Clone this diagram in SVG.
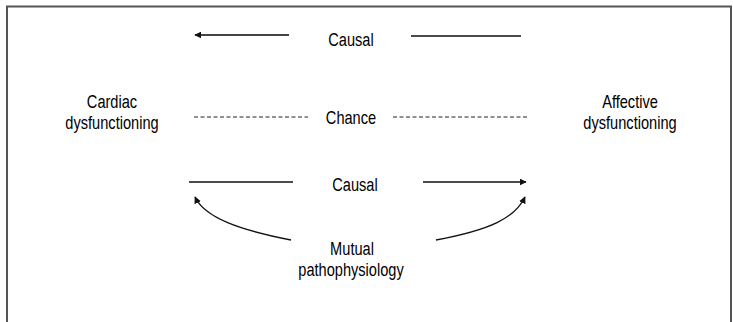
<svg xmlns="http://www.w3.org/2000/svg" width="733" height="322" viewBox="0 0 733 322">
  <style>
    text { font-family: "Liberation Sans", Arial, sans-serif; font-size: 14.6px; fill: #000; text-anchor: middle; }
    .frame { fill: none; stroke: #555; stroke-width: 2; }
    .link { fill: none; stroke: #111; stroke-width: 1.3; }
    .link-grey { fill: none; stroke: #444; stroke-width: 1.8; }
    .dash { fill: none; stroke: #222; stroke-width: 1; stroke-dasharray: 4 2.5; }
  </style>
  <defs>
    <marker id="arrow" viewBox="0 0 10 10" refX="9" refY="5" markerWidth="7" markerHeight="7" markerUnits="userSpaceOnUse" orient="auto">
      <path d="M0,0 L10,5 L0,10 z" fill="#111"/>
    </marker>
  </defs>
  <rect width="733" height="322" fill="#fff"/>
  <path class="frame" d="M7,322 V6.5 H731 V322"/>

  <!-- labels are drawn slightly tall: vertical scale 1.25 -->
  <g id="cardiac">
    <text transform="translate(112,108) scale(1,1.25)">Cardiac</text>
    <text transform="translate(112,129) scale(1,1.25)">dysfunctioning</text>
  </g>
  <g id="affective">
    <text transform="translate(630,108) scale(1,1.25)">Affective</text>
    <text transform="translate(630,129) scale(1,1.25)">dysfunctioning</text>
  </g>
  <g id="causal-top">
    <text transform="translate(351,45.5) scale(1,1.25)">Causal</text>
  </g>
  <g id="chance">
    <text transform="translate(351,124) scale(1,1.25)">Chance</text>
  </g>
  <g id="causal-bottom">
    <text transform="translate(355,190.5) scale(1,1.25)">Causal</text>
  </g>
  <g id="mutual">
    <text transform="translate(352,254.5) scale(1,1.25)">Mutual</text>
    <text transform="translate(351,275.5) scale(1,1.25)">pathophysiology</text>
  </g>

  <g id="connectors">
    <line class="link-grey" x1="289" y1="35" x2="195" y2="35" marker-end="url(#arrow)"/>
    <line class="link" x1="411" y1="36" x2="521" y2="36"/>
    <line class="dash" x1="194" y1="117" x2="308" y2="117"/>
    <line class="dash" x1="393" y1="117" x2="527" y2="117"/>
    <line class="link" x1="189" y1="182" x2="293" y2="182"/>
    <line class="link" x1="423" y1="182" x2="526" y2="182" marker-end="url(#arrow)"/>
    <path class="link" d="M291,240 C240,230 205,218 195,197" marker-end="url(#arrow)"/>
    <path class="link" d="M436,240 C490,230 515,218 525,197" marker-end="url(#arrow)"/>
  </g>
</svg>
